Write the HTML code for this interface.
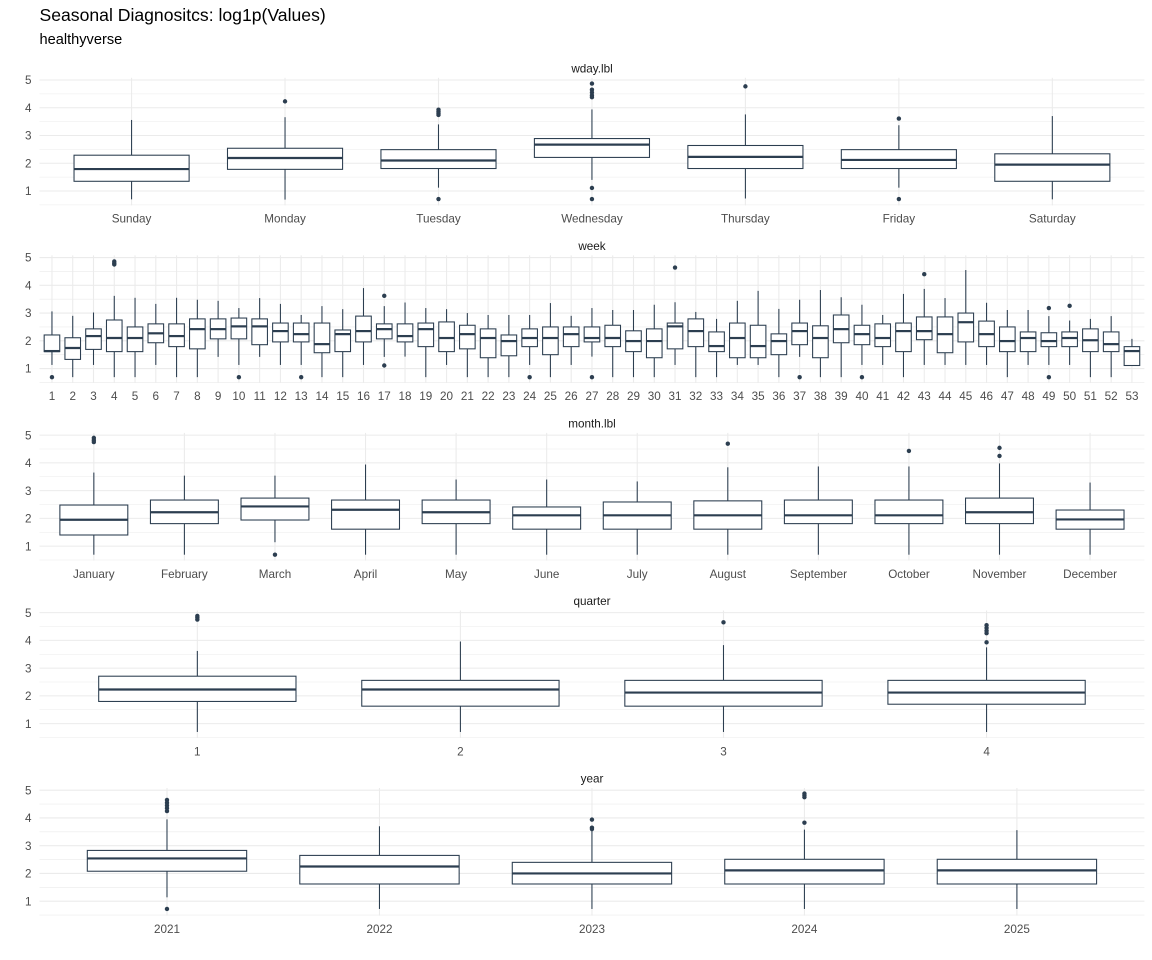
<!DOCTYPE html>
<html>
<head>
<meta charset="utf-8">
<style>
html,body{margin:0;padding:0;background:#fff;}
svg{display:block;}
text{font-family:"Liberation Sans",Arial,sans-serif;}
.yl{font-size:11.7px;fill:#4D4D4D;text-anchor:end;}
.xl{font-size:11.7px;fill:#4D4D4D;text-anchor:middle;}
.st{font-size:11.7px;fill:#1A1A1A;text-anchor:middle;}
</style>
</head>
<body>
<svg id="chart" width="1152" height="960" viewBox="0 0 1152 960" xmlns="http://www.w3.org/2000/svg">
<rect width="1152" height="960" fill="#fff"/>
<text x="39.5" y="21" style="font-size:17.6px;fill:#000;">Seasonal Diagnositcs: log1p(Values)</text>
<text x="39.5" y="44" style="font-size:14.6px;fill:#000;">healthyverse</text>

<!-- Panel 1 -->
<g transform="translate(0,0)">
<g id="s0"></g>
<text class="st" x="592" y="72.3">wday.lbl</text>
<text class="yl" x="31.5" y="84.2">5</text><text class="yl" x="31.5" y="112">4</text><text class="yl" x="31.5" y="139.7">3</text><text class="yl" x="31.5" y="167.5">2</text><text class="yl" x="31.5" y="195.2">1</text>
<text class="xl" x="131.6" y="222.7">Sunday</text>
<text class="xl" x="285.0" y="222.7">Monday</text>
<text class="xl" x="438.5" y="222.7">Tuesday</text>
<text class="xl" x="592.0" y="222.7">Wednesday</text>
<text class="xl" x="745.4" y="222.7">Thursday</text>
<text class="xl" x="898.9" y="222.7">Friday</text>
<text class="xl" x="1052.3" y="222.7">Saturday</text>
</g>

<!-- Panel 2 -->
<g transform="translate(0,177.55)">
<g id="s1"></g>
<text class="st" x="592" y="72.3">week</text>
<text class="yl" x="31.5" y="84.2">5</text><text class="yl" x="31.5" y="112">4</text><text class="yl" x="31.5" y="139.7">3</text><text class="yl" x="31.5" y="167.5">2</text><text class="yl" x="31.5" y="195.2">1</text>
<text class="xl" x="51.96" y="222.7">1</text>
<text class="xl" x="72.73" y="222.7">2</text>
<text class="xl" x="93.50" y="222.7">3</text>
<text class="xl" x="114.27" y="222.7">4</text>
<text class="xl" x="135.04" y="222.7">5</text>
<text class="xl" x="155.81" y="222.7">6</text>
<text class="xl" x="176.57" y="222.7">7</text>
<text class="xl" x="197.34" y="222.7">8</text>
<text class="xl" x="218.11" y="222.7">9</text>
<text class="xl" x="238.88" y="222.7">10</text>
<text class="xl" x="259.65" y="222.7">11</text>
<text class="xl" x="280.42" y="222.7">12</text>
<text class="xl" x="301.19" y="222.7">13</text>
<text class="xl" x="321.96" y="222.7">14</text>
<text class="xl" x="342.73" y="222.7">15</text>
<text class="xl" x="363.50" y="222.7">16</text>
<text class="xl" x="384.26" y="222.7">17</text>
<text class="xl" x="405.03" y="222.7">18</text>
<text class="xl" x="425.80" y="222.7">19</text>
<text class="xl" x="446.57" y="222.7">20</text>
<text class="xl" x="467.34" y="222.7">21</text>
<text class="xl" x="488.11" y="222.7">22</text>
<text class="xl" x="508.88" y="222.7">23</text>
<text class="xl" x="529.65" y="222.7">24</text>
<text class="xl" x="550.42" y="222.7">25</text>
<text class="xl" x="571.19" y="222.7">26</text>
<text class="xl" x="591.95" y="222.7">27</text>
<text class="xl" x="612.72" y="222.7">28</text>
<text class="xl" x="633.49" y="222.7">29</text>
<text class="xl" x="654.26" y="222.7">30</text>
<text class="xl" x="675.03" y="222.7">31</text>
<text class="xl" x="695.80" y="222.7">32</text>
<text class="xl" x="716.57" y="222.7">33</text>
<text class="xl" x="737.34" y="222.7">34</text>
<text class="xl" x="758.11" y="222.7">35</text>
<text class="xl" x="778.88" y="222.7">36</text>
<text class="xl" x="799.64" y="222.7">37</text>
<text class="xl" x="820.41" y="222.7">38</text>
<text class="xl" x="841.18" y="222.7">39</text>
<text class="xl" x="861.95" y="222.7">40</text>
<text class="xl" x="882.72" y="222.7">41</text>
<text class="xl" x="903.49" y="222.7">42</text>
<text class="xl" x="924.26" y="222.7">43</text>
<text class="xl" x="945.03" y="222.7">44</text>
<text class="xl" x="965.80" y="222.7">45</text>
<text class="xl" x="986.57" y="222.7">46</text>
<text class="xl" x="1007.33" y="222.7">47</text>
<text class="xl" x="1028.10" y="222.7">48</text>
<text class="xl" x="1048.87" y="222.7">49</text>
<text class="xl" x="1069.64" y="222.7">50</text>
<text class="xl" x="1090.41" y="222.7">51</text>
<text class="xl" x="1111.18" y="222.7">52</text>
<text class="xl" x="1131.95" y="222.7">53</text>
</g>

<!-- Panel 3 -->
<g transform="translate(0,355.1)">
<g id="s2"></g>
<text class="st" x="592" y="72.3">month.lbl</text>
<text class="yl" x="31.5" y="84.2">5</text><text class="yl" x="31.5" y="112">4</text><text class="yl" x="31.5" y="139.7">3</text><text class="yl" x="31.5" y="167.5">2</text><text class="yl" x="31.5" y="195.2">1</text>
<text class="xl" x="93.8" y="222.7">January</text>
<text class="xl" x="184.4" y="222.7">February</text>
<text class="xl" x="275.0" y="222.7">March</text>
<text class="xl" x="365.5" y="222.7">April</text>
<text class="xl" x="456.1" y="222.7">May</text>
<text class="xl" x="546.7" y="222.7">June</text>
<text class="xl" x="637.2" y="222.7">July</text>
<text class="xl" x="727.8" y="222.7">August</text>
<text class="xl" x="818.4" y="222.7">September</text>
<text class="xl" x="909.0" y="222.7">October</text>
<text class="xl" x="999.5" y="222.7">November</text>
<text class="xl" x="1090.1" y="222.7">December</text>
</g>

<!-- Panel 4 -->
<g transform="translate(0,532.65)">
<g id="s3"></g>
<text class="st" x="592" y="72.3">quarter</text>
<text class="yl" x="31.5" y="84.2">5</text><text class="yl" x="31.5" y="112">4</text><text class="yl" x="31.5" y="139.7">3</text><text class="yl" x="31.5" y="167.5">2</text><text class="yl" x="31.5" y="195.2">1</text>
<text class="xl" x="197.3" y="222.7">1</text>
<text class="xl" x="460.4" y="222.7">2</text>
<text class="xl" x="723.5" y="222.7">3</text>
<text class="xl" x="986.6" y="222.7">4</text>
</g>

<!-- Panel 5 -->
<g transform="translate(0,710.2)">
<g id="s4"></g>
<text class="st" x="592" y="72.3">year</text>
<text class="yl" x="31.5" y="84.2">5</text><text class="yl" x="31.5" y="112">4</text><text class="yl" x="31.5" y="139.7">3</text><text class="yl" x="31.5" y="167.5">2</text><text class="yl" x="31.5" y="195.2">1</text>
<text class="xl" x="167.0" y="222.7">2021</text>
<text class="xl" x="379.5" y="222.7">2022</text>
<text class="xl" x="592.0" y="222.7">2023</text>
<text class="xl" x="804.4" y="222.7">2024</text>
<text class="xl" x="1016.9" y="222.7">2025</text>
</g>
</svg>

<script>
(function(){
  var X0 = 39.5, X1 = 1144.4, TOP = 77.8, BOT = 205.4;
  var COL = "#2C3E50", GRID = "#EBEBEB";
  function y(v){ return 191 - (v - 1) * 27.75; }
  function ln(x1,y1,x2,y2,w,c){
    return '<line x1="'+x1.toFixed(2)+'" y1="'+y1.toFixed(2)+'" x2="'+x2.toFixed(2)+'" y2="'+y2.toFixed(2)+'" stroke="'+c+'" stroke-width="'+w+'"/>';
  }
  function draw(id, data){
    var n = data.length, sp = (X1 - X0) / (n - 1 + 1.2), bw = 0.75 * sp, s = '';
    var v, i;
    for (v = 0.5; v < 4.6; v += 1) s += ln(X0, y(v), X1, y(v), 0.55, GRID);
    for (v = 1; v <= 5; v += 1) s += ln(X0, y(v), X1, y(v), 1.07, GRID);
    for (i = 0; i < n; i++) { var cx = X0 + (0.6 + i) * sp; s += ln(cx, TOP, cx, BOT, 1.07, GRID); }
    for (i = 0; i < n; i++) {
      var d = data[i], c = X0 + (0.6 + i) * sp;
      var lo = d[0], q1 = d[1], md = d[2], q3 = d[3], hi = d[4], out = d[5];
      s += ln(c, y(q3), c, y(hi), 1.07, COL);
      s += ln(c, y(q1), c, y(lo), 1.07, COL);
      s += '<rect x="'+(c-bw/2).toFixed(2)+'" y="'+y(q3).toFixed(2)+'" width="'+bw.toFixed(2)+'" height="'+(y(q1)-y(q3)).toFixed(2)+'" fill="#fff" stroke="'+COL+'" stroke-width="1.07"/>';
      s += ln(c - bw/2, y(md), c + bw/2, y(md), 2.2, COL);
      for (var k = 0; k < out.length; k++) {
        s += '<circle cx="'+c.toFixed(2)+'" cy="'+y(out[k]).toFixed(2)+'" r="2.2" fill="'+COL+'"/>';
      }
    }
    document.getElementById(id).innerHTML = s;
  }
  var wday = [
    [0.70,1.35,1.79,2.29,3.56,[]],
    [0.69,1.78,2.19,2.54,3.66,[4.23]],
    [1.12,1.81,2.10,2.49,3.40,[0.71,3.74,3.80,3.86,3.93]],
    [1.40,2.21,2.67,2.89,3.94,[0.71,1.11,4.38,4.45,4.55,4.65,4.87]],
    [0.73,1.81,2.23,2.64,3.76,[4.77]],
    [1.12,1.81,2.12,2.49,3.37,[0.71,3.61]],
    [0.70,1.35,1.95,2.34,3.70,[]]
  ];
  var week = [
    [1.13,1.61,1.63,2.21,3.06,[0.69]],
    [0.69,1.33,1.74,2.11,2.90,[]],
    [1.13,1.69,2.17,2.43,3.02,[]],
    [0.69,1.61,2.10,2.75,3.62,[4.75,4.80,4.86]],
    [0.69,1.61,2.10,2.50,3.55,[]],
    [1.13,1.93,2.27,2.61,3.33,[]],
    [0.69,1.79,2.17,2.61,3.55,[]],
    [0.69,1.71,2.42,2.79,3.48,[]],
    [1.42,2.07,2.42,2.79,3.44,[]],
    [1.13,2.07,2.52,2.82,3.18,[0.69]],
    [1.42,1.86,2.52,2.79,3.54,[]],
    [1.13,1.96,2.35,2.64,3.33,[]],
    [1.13,1.96,2.24,2.64,2.93,[0.69]],
    [0.69,1.57,1.88,2.64,3.25,[]],
    [0.69,1.61,2.24,2.39,3.14,[]],
    [1.13,1.96,2.35,2.89,3.90,[]],
    [1.42,2.07,2.42,2.61,3.25,[1.11,3.62]],
    [1.43,1.96,2.17,2.61,3.38,[]],
    [0.69,1.79,2.42,2.64,3.18,[]],
    [1.13,1.61,2.10,2.68,3.14,[]],
    [0.69,1.71,2.24,2.56,3.00,[]],
    [0.69,1.39,2.10,2.43,2.93,[]],
    [0.69,1.46,1.99,2.21,2.93,[]],
    [1.13,1.79,2.10,2.43,2.93,[0.69]],
    [0.69,1.50,2.10,2.50,3.36,[]],
    [1.13,1.79,2.24,2.50,2.90,[]],
    [1.43,1.96,2.10,2.50,3.18,[0.69]],
    [0.69,1.79,2.10,2.56,3.11,[]],
    [0.69,1.61,1.99,2.36,3.11,[]],
    [0.69,1.39,1.99,2.43,3.30,[]],
    [1.13,1.71,2.52,2.64,3.39,[4.64]],
    [0.69,1.79,2.35,2.79,3.04,[]],
    [0.69,1.61,1.81,2.32,2.79,[]],
    [1.13,1.39,2.10,2.64,3.44,[]],
    [1.13,1.39,1.81,2.56,3.80,[]],
    [0.69,1.50,1.99,2.25,3.15,[]],
    [1.42,1.86,2.35,2.64,3.48,[0.69]],
    [0.69,1.39,2.10,2.54,3.83,[]],
    [0.69,1.93,2.42,2.93,3.57,[]],
    [1.13,1.86,2.24,2.56,3.30,[0.69]],
    [1.13,1.79,2.10,2.61,2.93,[]],
    [0.69,1.61,2.35,2.64,3.69,[]],
    [1.13,2.04,2.35,2.86,3.87,[4.40]],
    [1.13,1.57,2.24,2.86,3.54,[]],
    [1.13,1.96,2.67,3.00,4.55,[]],
    [1.13,1.79,2.24,2.71,3.37,[]],
    [0.69,1.61,1.99,2.50,3.11,[]],
    [1.13,1.61,2.10,2.32,3.11,[]],
    [1.13,1.79,1.99,2.29,2.89,[0.69,3.18]],
    [1.13,1.79,2.10,2.32,2.73,[3.26]],
    [0.69,1.61,2.02,2.43,2.79,[]],
    [0.69,1.61,1.88,2.32,2.89,[]],
    [1.11,1.11,1.63,1.79,2.07,[]]
  ];
  var month = [
    [0.69,1.40,1.95,2.48,3.65,[4.75,4.82,4.90]],
    [0.69,1.81,2.22,2.66,3.54,[]],
    [1.14,1.94,2.43,2.73,3.54,[0.69]],
    [0.69,1.61,2.31,2.66,3.94,[]],
    [0.69,1.81,2.22,2.66,3.40,[]],
    [0.69,1.61,2.11,2.41,3.40,[]],
    [0.69,1.61,2.11,2.59,3.33,[]],
    [0.69,1.61,2.11,2.63,3.84,[4.69]],
    [0.69,1.81,2.11,2.66,3.87,[]],
    [0.69,1.81,2.11,2.66,3.87,[4.43]],
    [0.69,1.81,2.22,2.73,3.98,[4.25,4.54]],
    [0.69,1.61,1.96,2.30,3.29,[]]
  ];
  var quarter = [
    [0.70,1.80,2.23,2.71,3.62,[4.75,4.82,4.88]],
    [0.70,1.63,2.23,2.56,3.96,[]],
    [0.70,1.63,2.12,2.56,3.83,[4.65]],
    [0.70,1.70,2.12,2.56,3.75,[3.93,4.26,4.35,4.45,4.55]]
  ];
  var year = [
    [1.14,2.08,2.54,2.83,3.95,[0.72,4.25,4.35,4.45,4.55,4.65]],
    [0.72,1.62,2.25,2.65,3.70,[]],
    [0.72,1.62,2.00,2.40,3.55,[3.60,3.65,3.94]],
    [0.72,1.62,2.11,2.51,3.58,[3.83,4.75,4.82,4.88]],
    [0.72,1.62,2.11,2.51,3.56,[]]
  ];
  draw("s0", wday);
  draw("s1", week);
  draw("s2", month);
  draw("s3", quarter);
  draw("s4", year);
})();
</script>
</body>
</html>
